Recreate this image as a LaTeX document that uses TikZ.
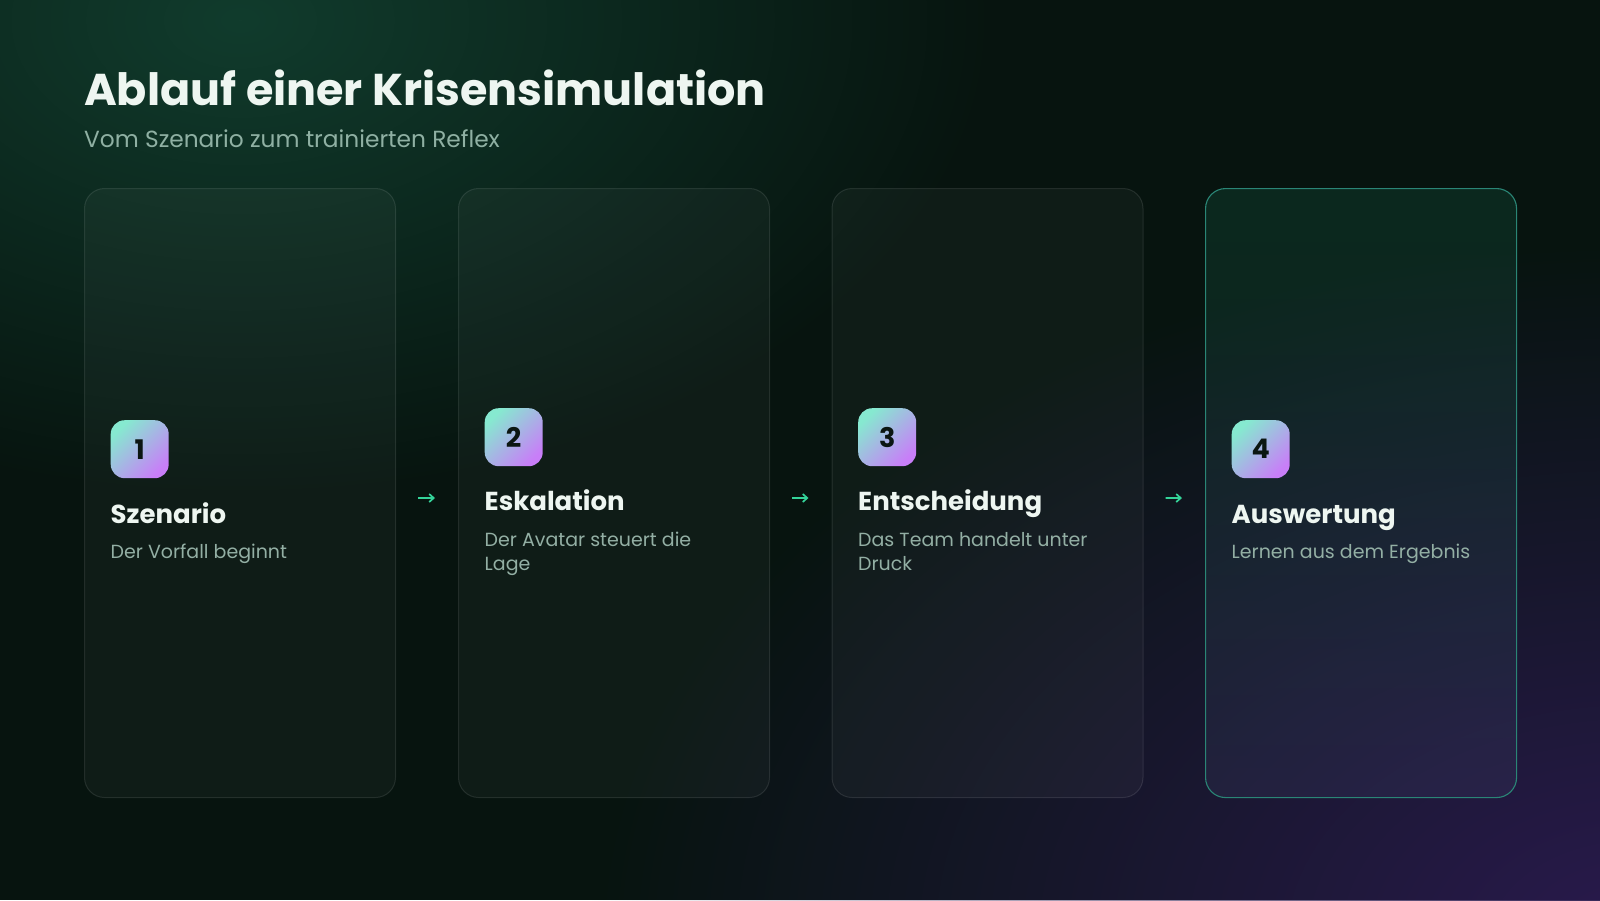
\documentclass[tikz,border=0pt]{standalone}
\usepackage{fontspec}
\setmainfont{Poppins}
\usetikzlibrary{fadings,arrows.meta,calc}
\definecolor{bgbase}{HTML}{07140F}
\definecolor{glowgreen}{HTML}{113C2D}
\definecolor{glowpurple}{HTML}{2A1A4E}
\definecolor{titlecol}{HTML}{EEF6F1}
\definecolor{subcol}{HTML}{8FB0A3}
\definecolor{desccol}{HTML}{93AFA4}
\definecolor{mint}{HTML}{86E9D0}
\definecolor{violet}{HTML}{C87EF8}
\definecolor{numcol}{HTML}{0B1612}
\definecolor{accent}{HTML}{34D399}
\definecolor{hiborder}{HTML}{2A8676}
\definecolor{hitop}{HTML}{2BC08C}
\definecolor{hibottom}{HTML}{5E6A96}
\tikzfading[name=glowfade, inner color=transparent!0, outer color=transparent!100]
\newcommand{\twolines}[2]{\vtop{\hbox{#1}\hbox{#2}}}
\tikzset{
  card/.style={rectangle, rounded corners=20pt, minimum width=311pt, minimum height=609pt,
    fill=white, fill opacity=0.035, draw=white, draw opacity=0.10, line width=1pt, anchor=north west},
  hicard/.style={rectangle, rounded corners=20pt, minimum width=311pt, minimum height=609pt,
    top color=hitop, bottom color=hibottom, fill opacity=0.12, draw=hiborder, draw opacity=1,
    line width=1.1pt, anchor=north west},
  badge/.style={rectangle, rounded corners=14pt, minimum width=58pt, minimum height=58pt,
    top color=mint, bottom color=violet, shading angle=45, anchor=north west, inner sep=0pt,
    text=numcol, font=\fontsize{27}{30}\selectfont\bfseries},
  steptitle/.style={anchor=base west, inner sep=0pt, text=titlecol,
    font=\fontsize{26}{30}\selectfont\bfseries},
  stepdesc/.style={anchor=base west, inner sep=0pt, text=desccol,
    font=\fontsize{19}{24}\selectfont},
  flow/.style={draw=accent, line width=1.7pt, -{Straight Barb[length=4.5pt,width=8pt]},
    shorten <=22pt, shorten >=23pt}
}
\begin{document}
\begin{tikzpicture}[x=1pt,y=-1pt]
\useasboundingbox (0,0) rectangle (1600,900);
\fill[bgbase] (0,0) rectangle (1600,900);
\fill[glowgreen, path fading=glowfade] (240,20) ellipse (760 and 480);
\fill[glowpurple, path fading=glowfade] (1640,940) ellipse (1050 and 700);

\node[anchor=base west, inner sep=0pt, text=titlecol, font=\fontsize{44.5}{50}\selectfont\bfseries] (title) at (84,105) {Ablauf einer Krisensimulation};
\node[anchor=base west, inner sep=0pt, text=subcol, font=\fontsize{23.3}{27}\selectfont] (subtitle) at (84,147) {Vom Szenario zum trainierten Reflex};

\node[card] (c1) at (84,188) {};
\node[card] (c2) at (458,188) {};
\node[card] (c3) at (831.5,188) {};
\node[hicard] (c4) at (1205,188) {};

\node[badge] (b1) at ($(c1.north west)+(26.5,232)$) {1};
\node[badge] (b2) at ($(c2.north west)+(26.5,220)$) {2};
\node[badge] (b3) at ($(c3.north west)+(26.5,220)$) {3};
\node[badge] (b4) at ($(c4.north west)+(26.5,232)$) {4};

\node[steptitle] (t1) at ($(b1.north west)+(0,103)$) {Szenario};
\node[steptitle] (t2) at ($(b2.north west)+(0,102.5)$) {Eskalation};
\node[steptitle] (t3) at ($(b3.north west)+(0,102.5)$) {Entscheidung};
\node[steptitle] (t4) at ($(b4.north west)+(0,103)$) {Auswertung};

\node[stepdesc] (d1) at ($(t1.base west)+(0,35.5)$) {Der Vorfall beginnt};
\node[stepdesc] (d2) at ($(t2.base west)+(0,35.5)$) {\twolines{Der Avatar steuert die}{Lage}};
\node[stepdesc] (d3) at ($(t3.base west)+(0,35.5)$) {\twolines{Das Team handelt unter}{Druck}};
\node[stepdesc] (d4) at ($(t4.base west)+(0,35.5)$) {Lernen aus dem Ergebnis};

\draw[flow] ($(c1.east)+(0,5)$) -- ($(c2.west)+(0,5)$);
\draw[flow] ($(c2.east)+(0,5)$) -- ($(c3.west)+(0,5)$);
\draw[flow] ($(c3.east)+(0,5)$) -- ($(c4.west)+(0,5)$);
\end{tikzpicture}
\end{document}
